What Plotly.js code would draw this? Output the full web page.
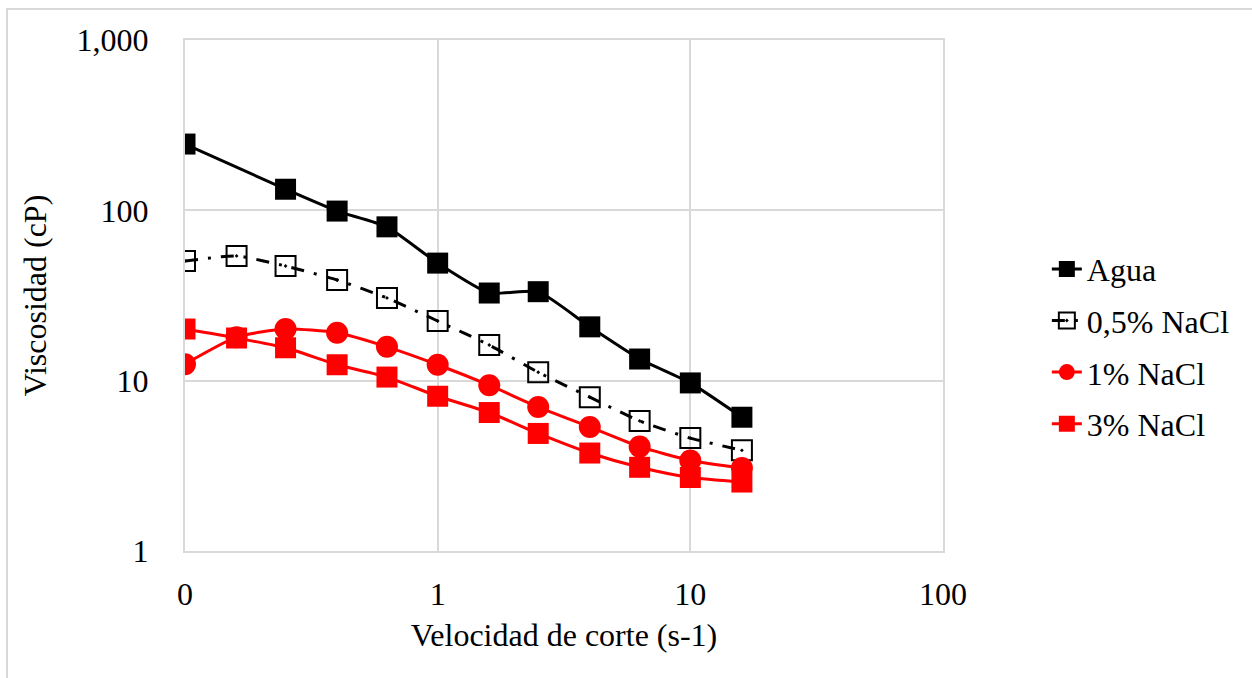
<!DOCTYPE html>
<html>
<head>
<meta charset="utf-8">
<script src="https://cdn.plot.ly/plotly-3.0.1.min.js"></script>
<style>
  html, body { margin: 0; padding: 0; background: #fff; }
  #wrap { position: relative; width: 1252px; height: 678px; overflow: hidden; }
  #chart { position: absolute; left: 0; top: 0; width: 1252px; height: 678px; }
  #frame { position: absolute; left: 6px; top: 8px; width: 1300px; height: 700px;
           border-left: 2px solid #d9d9d9; border-top: 2px solid #d9d9d9; pointer-events: none; }
</style>
</head>
<body>
<div id="wrap"><div id="chart"></div><div id="frame"></div></div>
<script>
// Shear rate (s-1)
const xAgua   = [0.1, 0.25, 0.4, 0.63, 1, 1.6, 2.5, 4, 6.3, 10, 16];
const xNaCl   = [0.1, 0.16, 0.25, 0.4, 0.63, 1, 1.6, 2.5, 4, 6.3, 10, 16];
// Viscosity (cP)
const yAgua   = [245, 133, 99, 80, 49, 32.7, 33.3, 20.7, 13.4, 9.7, 6.1];
const yNaCl05 = [50.4, 54, 47.1, 39, 30.6, 22.4, 16.2, 11.2, 8.0, 5.8, 4.6, 3.9];
const yNaCl1  = [12.5, 18.0, 20.1, 19.1, 15.8, 12.4, 9.4, 7.0, 5.35, 4.1, 3.4, 3.07];
const yNaCl3  = [20.1, 17.8, 15.6, 12.4, 10.5, 8.1, 6.5, 4.9, 3.76, 3.1, 2.7, 2.54];
const seriesNames = ["Agua", "0,5% NaCl", "1% NaCl", "3% NaCl"];
const xTickVals = [0.1, 1, 10, 100];
const xTickText = ["0", "1", "10", "100"];
const yTickVals = [1, 10, 100, 1000];
const yTickText = ["1", "10", "100", "1,000"];

const FONT = "Liberation Serif, Times New Roman, serif";
const FS = 32;

const traces = [
  { x: xAgua, y: yAgua, name: seriesNames[0], legendgroup: "a", mode: "lines+markers",
    line: { color: "#000000", width: 3, shape: "spline", smoothing: 0.5 },
    marker: { symbol: "square", size: 21, color: "#000000" } },
  { x: xNaCl, y: yNaCl05, name: seriesNames[1], legendgroup: "b", mode: "lines+markers",
    line: { color: "#000000", width: 3, dash: "13px,10px,3px,10px", shape: "spline", smoothing: 0.5 },
    marker: { symbol: "square-open-dot", size: 20, color: "#000000", line: { width: 2, color: "#000000" } } },
  { x: xNaCl, y: yNaCl1, name: seriesNames[2], legendgroup: "c", mode: "lines+markers",
    line: { color: "#ff0000", width: 3, shape: "spline", smoothing: 0.6 },
    marker: { symbol: "circle", size: 22, color: "#ff0000" } },
  { x: xNaCl, y: yNaCl3, name: seriesNames[3], legendgroup: "d", mode: "lines+markers",
    line: { color: "#ff0000", width: 3, shape: "spline", smoothing: 0.6 },
    marker: { symbol: "square", size: 21, color: "#ff0000" } }
];

const layout = {
  width: 1252, height: 678,
  margin: { l: 185, r: 309, t: 40, b: 127 },
  paper_bgcolor: "#ffffff", plot_bgcolor: "#ffffff",
  font: { family: FONT, size: FS, color: "#000000" },
  showlegend: true,
  legend: { x: 1.137, xanchor: "left", y: 0.40, yanchor: "middle",
            font: { family: FONT, size: FS, color: "#000000" },
            tracegroupgap: 7, itemsizing: "trace", bgcolor: "rgba(0,0,0,0)" },
  xaxis: {
    type: "log", range: [-1, 2],
    tickmode: "array", tickvals: xTickVals, ticktext: xTickText,
    showgrid: true, gridcolor: "#d9d9d9", gridwidth: 2,
    showline: true, mirror: true, linecolor: "#d9d9d9", linewidth: 2,
    zeroline: false, ticks: "", ticklabelstandoff: 14,
    tickfont: { family: FONT, size: FS },
    title: { text: "Velocidad de corte (s-1)", font: { family: FONT, size: FS }, standoff: 12 }
  },
  yaxis: {
    type: "log", range: [0, 3],
    tickmode: "array", tickvals: yTickVals, ticktext: yTickText,
    showgrid: true, gridcolor: "#d9d9d9", gridwidth: 2,
    showline: true, mirror: true, linecolor: "#d9d9d9", linewidth: 2,
    zeroline: false, ticks: "", ticklabelstandoff: 28,
    tickfont: { family: FONT, size: FS },
    title: { text: "Viscosidad (cP)", font: { family: FONT, size: FS }, standoff: 20 }
  }
};

Plotly.newPlot("chart", traces, layout, { displayModeBar: false, staticPlot: true });
</script>
</body>
</html>
